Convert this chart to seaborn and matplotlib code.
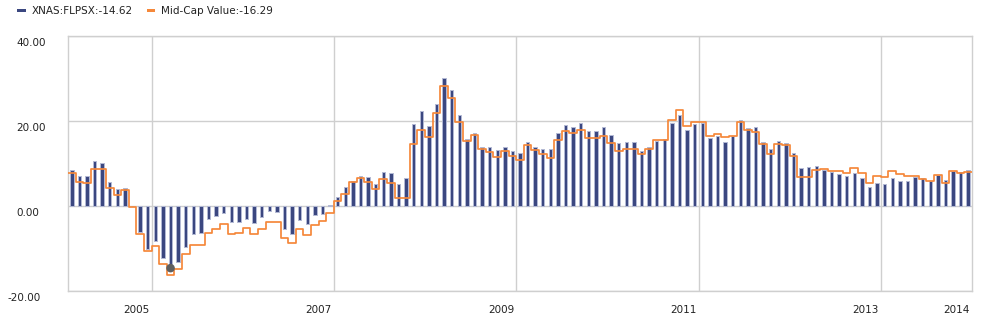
import numpy as np
import pandas as pd
import matplotlib
matplotlib.use("Agg")
import matplotlib.pyplot as plt
import matplotlib.transforms as mtransforms
from matplotlib.patches import Rectangle
import seaborn as sns

# ---------------- data ----------------
months = [p.strftime("%Y-%m") for p in pd.period_range("2004-04", "2014-02", freq="M")]

fund_name = "XNAS:FLPSX"
cat_name = "Mid-Cap Value"

fund = [8.4, 7.1, 7.1, 10.6, 10.1, 5.6, 3.9, 4.3, 0.0, -6.1,
        -10.2, -8.2, -12.2, -14.62, -13.1, -9.6, -6.7, -6.3, -3.1, -2.4,
        -1.6, -3.7, -3.8, -3.0, -3.9, -2.7, -1.2, -1.5, -5.3, -6.5,
        -3.3, -4.3, -2.1, -1.9, 0.3, 2.1, 4.4, 6.0, 7.0, 6.8,
        5.2, 8.1, 7.7, 5.1, 6.6, 19.2, 22.3, 18.8, 24.0, 30.1,
        27.4, 21.4, 15.7, 17.2, 14.0, 14.0, 13.2, 14.0, 12.9, 12.5,
        15.0, 13.8, 13.3, 13.4, 17.1, 19.0, 18.6, 19.5, 17.6, 17.7,
        18.5, 16.6, 14.8, 15.1, 15.1, 12.9, 14.0, 15.3, 15.7, 19.5,
        21.5, 18.0, 19.3, 19.6, 16.0, 16.4, 15.1, 16.4, 20.2, 18.3,
        18.6, 15.1, 13.3, 15.2, 14.8, 12.5, 8.9, 9.1, 9.4, 8.4,
        8.1, 7.6, 7.1, 7.8, 6.6, 4.5, 5.4, 5.1, 6.7, 6.0,
        5.9, 6.9, 6.7, 6.0, 7.3, 6.1, 8.3, 8.1, 8.5]

category = [7.8, 5.6, 5.3, 8.6, 8.6, 4.3, 2.5, 3.7, -0.2, -6.5,
            -10.6, -9.4, -13.7, -16.29, -14.8, -11.4, -9.2, -9.2, -6.3, -5.5,
            -4.2, -6.7, -6.3, -5.1, -6.7, -5.5, -3.8, -3.8, -7.5, -8.6,
            -5.3, -6.8, -4.5, -3.5, -1.6, 1.2, 2.9, 5.7, 6.6, 5.7,
            3.9, 6.3, 5.3, 1.8, 1.9, 14.6, 18.0, 16.2, 21.9, 28.2,
            25.5, 19.8, 15.3, 16.6, 13.3, 12.6, 11.5, 12.9, 11.8, 10.8,
            14.4, 13.1, 12.2, 11.4, 15.5, 17.6, 17.1, 18.0, 16.0, 15.9,
            16.4, 14.9, 12.9, 13.3, 13.3, 12.2, 13.3, 15.5, 15.5, 20.2,
            22.6, 18.8, 19.8, 19.8, 16.5, 17.0, 16.2, 16.4, 19.8, 17.9,
            17.5, 14.5, 12.2, 14.5, 14.3, 11.8, 6.9, 6.9, 8.4, 8.6,
            8.2, 8.2, 7.8, 9.0, 7.7, 5.4, 7.1, 6.9, 8.2, 7.6,
            7.0, 7.1, 6.3, 5.8, 7.4, 5.3, 8.2, 7.8, 8.1]

hover_month = "2005-05"

y_ticks = [-20, 0, 20, 40]
y_tick_labels = ["-20.00", "0.00", "20.00", "40.00"]
x_tick_labels = ["2005", "2007", "2009", "2011", "2013", "2014"]
x_label_months = ["2004-12", "2006-12", "2008-12", "2010-12", "2012-12", "2013-12"]
x_grid_months = ["2005-02", "2007-02", "2009-02", "2011-02", "2013-02"]

# ---------------- style ----------------
BLUE = "#3b4780"
BLUE_EDGE = "#b3b9d4"
ORANGE = "#f5883a"
GRID = "#cfcfcf"
TEXT = "#222222"
FS = 7.5

df = pd.DataFrame({"month": months, "fund": fund, "category": category})
idx = {m: i for i, m in enumerate(months)}

sns.set_style("white")
plt.rcParams["font.family"] = ["DejaVu Sans"]

W, H = 982, 315
fig = plt.figure(figsize=(W / 100, H / 100), dpi=100)
L, R, T, B = 68, 972, 36, 291
ax = fig.add_axes([L / W, 1 - B / H, (R - L) / W, (B - T) / H])

sns.barplot(data=df, x="month", y="fund", order=months, color=BLUE,
            saturation=1, width=0.45, edgecolor=BLUE_EDGE, linewidth=0.7,
            ax=ax, zorder=2)

# step line for category, spanning each month's slot
edges = np.arange(len(months) + 1) - 0.5
step_vals = list(category) + [category[-1]]
sns.lineplot(x=edges, y=step_vals, drawstyle="steps-post", color=ORANGE,
             linewidth=1.25, ax=ax, zorder=3, legend=False)

hi = idx[hover_month]
sns.scatterplot(x=[hi], y=[fund[hi]], color="#5f5f5f", s=38, edgecolor="none",
                ax=ax, zorder=4, legend=False)

ax.set_xlim(-0.5, len(months) - 0.5)
ax.set_ylim(y_ticks[0], y_ticks[-1])
ax.set_xlabel("")
ax.set_ylabel("")

ax.set_yticks(y_ticks)
ax.set_yticklabels([])
ax.set_xticks([idx[m] + 0.5 for m in x_grid_months])
ax.set_xticklabels([])
ax.set_xticks([idx[m] + 0.5 for m in x_label_months], minor=True)
ax.set_xticklabels(x_tick_labels, minor=True, fontsize=FS, color=TEXT)
ax.tick_params(axis="both", which="both", length=0)
ax.tick_params(axis="x", which="minor", pad=10)
ax.grid(True, which="major", color=GRID, linewidth=1.0, zorder=0)
ax.set_axisbelow(True)
for s in ax.spines.values():
    s.set_color(GRID)
    s.set_linewidth(1.0)
    s.set_visible(True)

# y labels, left aligned in the margin, just below each gridline
trans = mtransforms.blended_transform_factory(fig.transFigure, ax.transData)
for v, lab in zip(y_ticks, y_tick_labels):
    xpix = 7.5 if lab.startswith("-") else 16.5
    t = mtransforms.offset_copy(trans, fig=fig, x=0, y=-2, units="dots")
    ax.text(xpix / W, v, lab, transform=t, ha="left", va="top",
            fontsize=FS, color=TEXT, clip_on=False)

# legend
ycen = 10.7
for x0, col, txt, xt in [(17.3, BLUE, f"{fund_name}:{fund[hi]:.2f}", 31.7),
                         (146.7, ORANGE, f"{cat_name}:{category[hi]:.2f}", 161.0)]:
    fig.add_artist(Rectangle((x0 / W, 1 - (ycen + 1.6) / H), 8.5 / W, 3.2 / H,
                             transform=fig.transFigure, color=col, lw=0))
    fig.text(xt / W, 1 - ycen / H, txt, ha="left", va="center",
             fontsize=FS, color=TEXT)

fig.savefig("out.png", dpi=100, facecolor="white")
